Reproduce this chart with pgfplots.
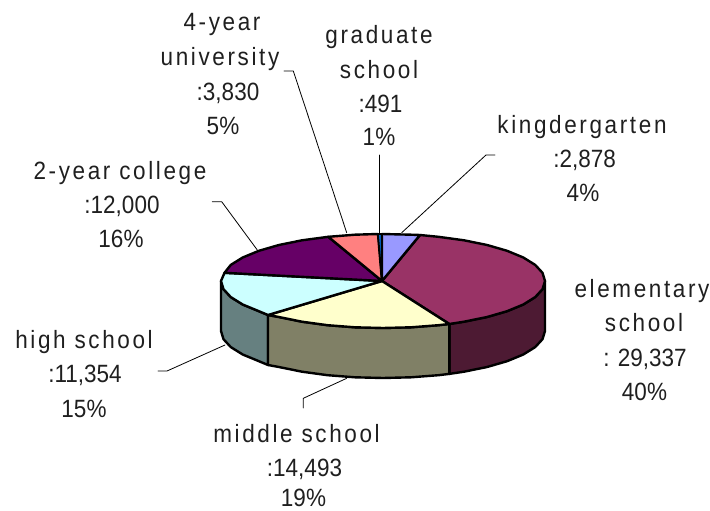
\documentclass[border=0pt]{standalone}
\usepackage{pgfplots}
\pgfplotsset{compat=1.18}
\usepackage{fontspec}
\setmainfont{Liberation Sans}
\newfontfamily\wordf[LetterSpace=10.5,FakeStretch=0.9]{Liberation Sans}
\newfontfamily\numf[FakeStretch=0.9]{Liberation Sans}
\definecolor{ckinder}{HTML}{9999FF}
\definecolor{celem}{HTML}{993366}
\definecolor{cmid}{HTML}{FFFFCC}
\definecolor{chigh}{HTML}{CCFFFF}
\definecolor{ctwo}{HTML}{660066}
\definecolor{cfour}{HTML}{FF8080}
\definecolor{cgrad}{HTML}{0066CC}
\definecolor{selem}{HTML}{4D1A33}
\definecolor{smid}{HTML}{808066}
\definecolor{shigh}{HTML}{668080}
\newcommand{\lab}[3]{\node[anchor=base,inner sep=0pt,text=black!88,font=\fontsize{25}{25}\selectfont\wordf] at (axis cs:#1,#2) {#3};}
\newcommand{\nlab}[3]{\node[anchor=base,inner sep=0pt,text=black!88,font=\fontsize{25}{25}\selectfont\numf] at (axis cs:#1,#2) {#3};}
\begin{document}
\begin{tikzpicture}
\begin{axis}[
  at={(0pt,0pt)},anchor=south west,
  width=710pt,height=511pt,scale only axis,
  xmin=0,xmax=710,ymin=0,ymax=511,y dir=reverse,
  axis lines=none,clip=false,
  every axis plot/.append style={line join=round,line cap=round}]
% side faces
\addplot[fill=shigh,draw=black,line width=2.4pt] coordinates {(268,315)(258.9,311.2)(242.7,304.5)(230.8,297.1)(223.5,289.2)(221,281)(221,331)(223.5,339.2)(230.8,347.1)(242.7,354.5)(258.9,361.2)(268,365)(268,315)};
\addplot[fill=selem,draw=black,line width=2.4pt] coordinates {(545,281)(542.5,289.2)(535.2,297.1)(523.3,304.5)(507.1,311.2)(487.1,317)(464,321.7)(449.3,324)(449.3,373.9)(464,371.7)(487.1,367)(507.1,361.2)(523.3,354.5)(535.2,347.1)(542.5,339.2)(545,331)(545,281)};
\addplot[fill=smid,draw=black,line width=2.4pt] coordinates {(449.3,324)(438.4,325.2)(411.1,327.3)(383,328)(354.9,327.3)(327.6,325.2)(302,321.7)(278.9,317)(268,315)(268,365)(278.9,367)(302,371.7)(327.6,375.2)(354.9,377.3)(383,378)(411.1,377.3)(438.4,375.2)(449.3,373.9)(449.3,324)};
% top faces
\addplot[fill=celem,draw=black,line width=2.4pt] coordinates {(382,281)(420,235)(438.4,236.8)(464,240.3)(487.1,245)(507.1,250.8)(523.3,257.5)(535.2,264.9)(542.5,272.8)(545,281)(542.5,289.2)(535.2,297.1)(523.3,304.5)(507.1,311.2)(487.1,317)(464,321.7)(449.3,324)(382,281)};
\addplot[fill=cmid,draw=black,line width=2.4pt] coordinates {(382,281)(449.3,324)(438.4,325.2)(411.1,327.3)(383,328)(354.9,327.3)(327.6,325.2)(302,321.7)(278.9,317)(268,315)(382,281)};
\addplot[fill=chigh,draw=black,line width=2.4pt] coordinates {(382,281)(268,315)(258.9,311.2)(242.7,304.5)(230.8,297.1)(223.5,289.2)(221,281)(224.5,272.8)(382,281)};
\addplot[fill=ctwo,draw=black,line width=2.4pt] coordinates {(382,281)(224.5,272.8)(230.8,264.9)(242.7,257.5)(258.9,250.8)(278.9,245)(302,240.3)(328.3,236.8)(382,281)};
\addplot[fill=cfour,draw=black,line width=2.4pt] coordinates {(382,281)(328.3,236.8)(354.9,234.7)(378,234)(382,281)};
\addplot[fill=cgrad,draw=black,line width=1.6pt] coordinates {(382,281)(378,234)(382,234)(382,281)};
\addplot[fill=ckinder,draw=black,line width=2.4pt] coordinates {(382,281)(382,234)(411.1,234.7)(420,235)(382,281)};
% leader lines
\addplot[black,line width=0.8pt] coordinates {(401.7,232.7)(486,155)(495,155)};
\addplot[black,line width=0.8pt] coordinates {(379.3,232.7)(379.3,155)};
\addplot[black,line width=0.8pt] coordinates {(346.7,232.7)(293.3,71)(284,71)};
\addplot[black,line width=0.8pt] coordinates {(257.3,250)(221.7,201.7)(212.3,201.7)};
\addplot[black,line width=0.8pt] coordinates {(225,345)(167,371)(158,371)};
\addplot[black,line width=0.8pt] coordinates {(346.7,378.3)(303.3,398.3)(303.3,408)};
% labels
\lab{582}{133}{kingdergarten}
\nlab{584.7}{167}{:2,878}
\nlab{583}{201}{4\%}
\lab{379}{44}{graduate}
\lab{379}{78.5}{school}
\nlab{380.5}{112.5}{:491}
\nlab{379}{146}{1\%}
\lab{222}{31}{4-year}
\lab{220}{66}{university}
\nlab{228}{100}{:3,830}
\nlab{223}{134}{5\%}
\lab{120}{179}{2-year college}
\nlab{122}{213}{:12,000}
\nlab{121}{247}{16\%}
\lab{642}{297}{elementary}
\lab{644}{331.5}{school}
\nlab{645}{366}{: 29,337}
\nlab{644.5}{400}{40\%}
\lab{84}{348}{high school}
\nlab{85}{382}{:11,354}
\nlab{84}{417}{15\%}
\lab{296.5}{442}{middle school}
\nlab{304.5}{476}{:14,493}
\nlab{303.5}{506}{19\%}
\end{axis}
\useasboundingbox (0,0) rectangle (710pt,511pt);
\end{tikzpicture}
\end{document}
